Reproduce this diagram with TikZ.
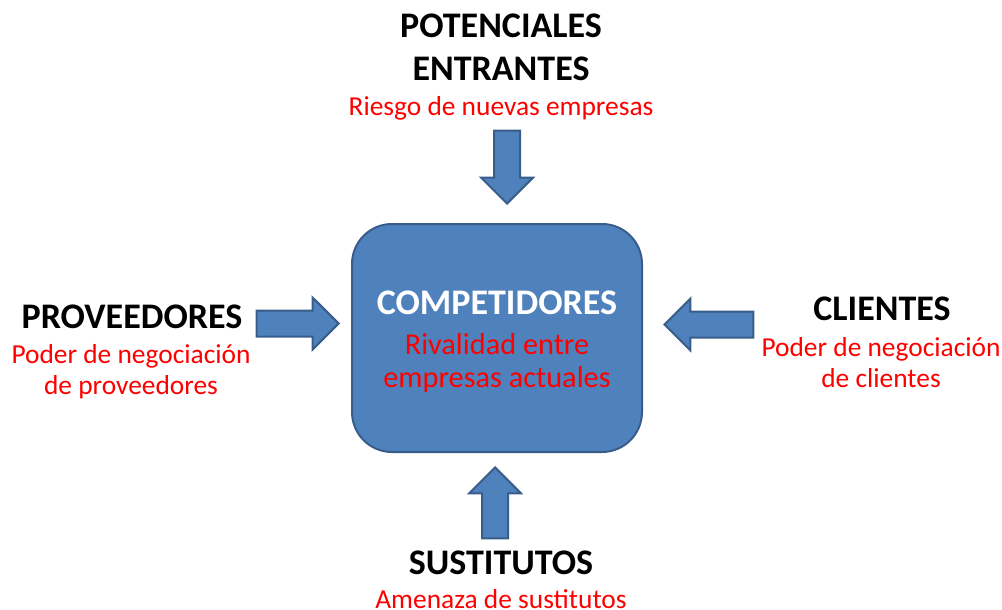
\documentclass[tikz,border=0pt]{standalone}
\usepackage{fontspec}
\setmainfont{Carlito}
\usetikzlibrary{shapes.arrows}
\definecolor{boxblue}{HTML}{4F81BD}
\definecolor{boxline}{HTML}{385D8A}
\definecolor{notered}{HTML}{FF0000}

\begin{document}
\begin{tikzpicture}[x=1pt,y=-1pt,
    main node/.style={rectangle,rounded corners=40pt,draw=boxline,line width=2pt,fill=boxblue,
      minimum width=290pt,minimum height=228pt},
    arrow node/.style={single arrow,draw=boxline,line width=2pt,fill=boxblue,inner xsep=0pt,
      inner ysep=12pt,single arrow head extend=13pt,minimum height=#1,anchor=tip},
    title node/.style={font=\fontsize{36}{43}\selectfont\bfseries,align=center,anchor=base,inner sep=0pt},
    note node/.style={text=notered,font=\fontsize{27.4}{31}\selectfont,align=center,anchor=base,inner sep=0pt}]
  \useasboundingbox (0,0) rectangle (1002,610);

  % rivalidad
  \node[main node] (box) at (497,338) {};
  \node[title node,text=white] (comp) at ([yshift=24pt]box.center) {COMPETIDORES};
  \node[note node,font=\fontsize{30.3}{33}\selectfont] (riv) at ([yshift=-49pt]box.center)
    {Rivalidad entre\\empresas actuales};

  % las cuatro fuerzas (base = ultima linea)
  \node[title node] (pot) at (501,81) {POTENCIALES\\ENTRANTES};
  \node[note node] (ries) at (501,116) {Riesgo de nuevas empresas};

  \node[title node] (prov) at (132,328) {PROVEEDORES};
  \node[note node] (pprov) at (131,394) {Poder de negociación\\de proveedores};

  \node[title node] (cli) at (882,320) {CLIENTES};
  \node[note node] (pcli) at (881,387) {Poder de negociación\\de clientes};

  \node[title node] (sus) at (501,574) {SUSTITUTOS};
  \node[note node] (amen) at (501,608) {Amenaza de sustitutos};

  % flechas
  \node[arrow node=73pt,rotate=-90] (down) at (507,205) {};
  \node[arrow node=82pt] (right) at (340,323.5) {};
  \node[arrow node=89pt,rotate=180] (left) at (663,324.5) {};
  \node[arrow node=71pt,rotate=90] (up) at (495,466) {};
\end{tikzpicture}
\end{document}
